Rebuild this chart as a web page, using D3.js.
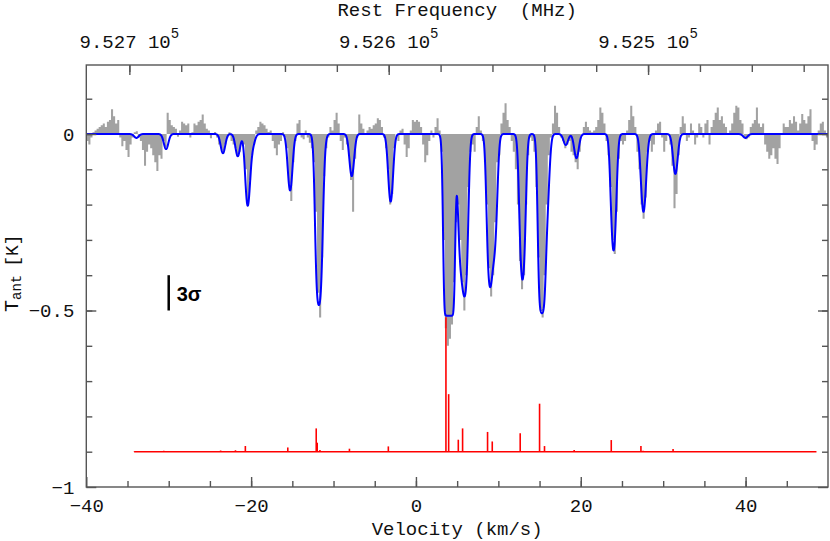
<!DOCTYPE html>
<html>
<head>
<meta charset="utf-8">
<script src="https://cdn.jsdelivr.net/npm/d3@7"></script>
<style>
  body { margin: 0; background: #fff; }
  svg text { font-family: "Liberation Mono", "DejaVu Sans Mono", monospace; fill: #111; }
  .axis path, .axis line { stroke: #555; stroke-width: 1.4px; }
</style>
</head>
<body>
<svg id="spectrum" width="830" height="541"></svg>
<script>
// observed spectrum, channels of grayStep km/s starting at grayStart (T_ant in K)
var grayStart = -40;
var grayStep = 0.25;
var grayValues = [
  -0.02, -0.03, -0.01, 0.005, 0.01, 0.015, 0.02, 0.025, 0.03, 0.02, 0.035, 0.04, 0.07, 0.05, 0.03, 0.04, -0.01, -0.035, -0.02, -0.045,
  -0.065, -0.03, -0.01, 0.005, 0.008, -0.01, -0.02, -0.045, -0.09, -0.05, -0.03, -0.04, -0.06, -0.08, -0.105, -0.06, -0.07, -0.02, -0.04, 0.06,
  0.04, 0.025, 0.02, 0.015, -0.008, 0.01, 0.035, 0.03, 0.025, 0.03, -0.01, 0.005, 0.03, 0.025, 0.035, 0.04, 0.055, 0.03, 0.015, 0.01,
  -0.012, 0.0, 0.006, -0.01, -0.03, -0.04, -0.055, -0.03, -0.01, 0.005, -0.02, -0.03, -0.04, -0.065, -0.05, -0.02, -0.03, -0.1, -0.205, -0.13,
  -0.06, -0.03, 0.01, 0.02, 0.035, 0.03, 0.025, 0.015, 0.006, 0.01, -0.02, -0.04, -0.06, -0.03, -0.02, 0.005, -0.01, -0.04, -0.14, -0.19,
  -0.08, -0.02, 0.03, 0.04, -0.01, -0.015, 0.01, -0.01, -0.025, -0.04, -0.08, -0.22, -0.45, -0.52, -0.35, -0.12, -0.04, -0.01, 0.02, 0.01,
  0.04, 0.06, 0.03, -0.02, -0.045, -0.01, -0.03, -0.06, -0.13, -0.22, -0.07, -0.01, 0.055, 0.03, 0.015, 0.0, 0.01, 0.02, 0.015, 0.025,
  0.03, 0.045, 0.04, 0.02, -0.01, -0.04, -0.1, -0.2, -0.17, -0.04, 0.0, -0.02, 0.01, 0.015, -0.03, -0.065, -0.04, 0.01, 0.04, 0.035,
  0.04, 0.035, 0.02, -0.03, -0.08, -0.06, -0.02, 0.01, -0.01, 0.02, 0.045, 0.01, -0.05, -0.3, -0.55, -0.6, -0.58, -0.54, -0.42, -0.25,
  -0.2, -0.3, -0.42, -0.5, -0.4, -0.15, -0.05, -0.03, -0.05, 0.02, 0.05, 0.01, -0.02, -0.08, -0.2, -0.38, -0.46, -0.4, -0.25, -0.08,
  -0.06, 0.03, 0.06, 0.087, 0.04, 0.02, -0.02, -0.05, -0.1, -0.2, -0.36, -0.44, -0.4, -0.2, -0.06, -0.01, -0.02, -0.05, -0.15, -0.35,
  -0.5, -0.52, -0.4, -0.2, -0.06, -0.01, 0.03, 0.08, 0.06, 0.02, -0.01, -0.02, -0.04, -0.03, -0.02, -0.05, -0.06, -0.08, -0.1, -0.05,
  0.0, 0.02, 0.035, 0.02, 0.01, 0.005, 0.01, 0.02, 0.04, 0.075, 0.06, 0.03, -0.02, -0.06, -0.15, -0.3, -0.34, -0.22, -0.07, -0.02,
  -0.03, -0.02, 0.01, 0.04, 0.08, 0.05, 0.02, -0.05, -0.1, -0.2, -0.24, -0.18, -0.05, -0.02, -0.05, -0.03, 0.01, 0.03, 0.035, -0.01,
  -0.05, -0.02, 0.0, -0.03, -0.09, -0.21, -0.17, -0.06, 0.02, 0.05, 0.03, -0.02, -0.01, 0.03, 0.01, -0.03, -0.01, 0.03, 0.02, -0.01,
  0.03, 0.04, -0.03, 0.02, 0.04, 0.06, 0.075, 0.04, 0.05, 0.03, 0.02, 0.0, 0.01, 0.03, 0.06, 0.08, 0.075, 0.04, 0.03, -0.01,
  -0.015, -0.01, 0.02, 0.03, 0.04, 0.075, 0.03, 0.02, 0.03, -0.03, -0.05, -0.07, -0.06, -0.04, -0.07, -0.085, -0.04, 0.0, 0.03, 0.02,
  0.02, 0.04, 0.03, 0.05, 0.035, 0.01, 0.03, 0.057, 0.04, 0.03, 0.05, 0.07, -0.02, -0.045, -0.03, 0.01, 0.03, 0.035, 0.01, -0.01
];

// hyperfine components: velocity (km/s) and stick height (K above stickBase)
var hfsVelocity = [-34.2, -30.6, -23.7, -21.9, -20.7, -20.1, -15.55, -12.1, -11.98, -11.65, -8.07, -3.35,
  3.64, 3.97, 5.14, 5.66, 8.69, 9.26, 12.65, 15.0, 15.6, 17.9, 19.2, 23.7, 27.3, 27.56, 31.2, 39.7];
var hfsIntensity = [0.0007, 0.0028, 0.0036, 0.0042, 0.016, 0.002, 0.012, 0.066, 0.0255, 0.005, 0.0085, 0.015,
  0.381, 0.163, 0.034, 0.066, 0.056, 0.029, 0.052, 0.136, 0.016, 0.002, 0.0046, 0.033, 0.016, 0.003, 0.008, 0.0007];
var stickBase = -0.9;
var stickRange = [-34.2, 48.6];

// hfs fit: depth of saturated lines, opacity per K of stick, line width, velocity offset
var fitTmax = 0.515;
var fitTauPerK = 31;
var fitSigma = 0.27;
var fitShift = 0.28;

// noise bar (3 sigma) in K
var sigmaBar = { v: -30, top: -0.4, bottom: -0.5 };

var velDomain = [-40, 50];
var tempDomain = [-1, 0.1955];
var xMajorTicks = [-40, -20, 0, 20, 40];
var yMajorTicks = [0, -0.5, -1];
var freqMajorTicks = [952700, 952600, 952500];
var restFreq = 952589.5; // MHz at v = 0
var lightSpeed = 299792.458;

var svg = d3.select("#spectrum"),
  frameLeft = 86.3,
  frameRight = 828,
  frameTop = 65,
  frameBottom = 487;

var x = d3.scaleLinear().domain(velDomain).range([frameLeft, frameRight]);
var y = d3.scaleLinear().domain(tempDomain).range([frameBottom, frameTop]);

function velToFreq(v) {
  return restFreq * (1 - v / lightSpeed);
}
var xf = d3.scaleLinear()
  .domain([velToFreq(velDomain[0]), velToFreq(velDomain[1])])
  .range([frameLeft, frameRight]);

svg.append("clipPath")
  .attr("id", "plotClip")
  .append("rect")
  .attr("x", frameLeft)
  .attr("y", frameTop)
  .attr("width", frameRight - frameLeft)
  .attr("height", frameBottom - frameTop);

var plot = svg.append("g").attr("clip-path", "url(#plotClip)");

// gray histogram
var grayPoints = grayValues.map(function(t, i) {
  return [grayStart + i * grayStep, t];
});
grayPoints.push([grayStart + grayValues.length * grayStep, grayValues[grayValues.length - 1]]);

plot.append("path")
  .datum(grayPoints)
  .attr("fill", "#a2a2a2")
  .attr("d", d3.area()
    .curve(d3.curveStepAfter)
    .x(function(d) { return x(d[0]); })
    .y0(y(0))
    .y1(function(d) { return y(d[1]); }));

// red stick spectrum
plot.append("line")
  .attr("x1", x(stickRange[0]))
  .attr("x2", x(stickRange[1]))
  .attr("y1", y(stickBase))
  .attr("y2", y(stickBase))
  .attr("stroke", "#ff0000")
  .attr("stroke-width", 1.5);

plot.selectAll(".stick")
  .data(hfsVelocity)
  .enter()
  .append("line")
  .attr("class", "stick")
  .attr("x1", function(d) { return x(d); })
  .attr("x2", function(d) { return x(d); })
  .attr("y1", y(stickBase))
  .attr("y2", function(d, i) { return y(stickBase + hfsIntensity[i]); })
  .attr("stroke", "#ff0000")
  .attr("stroke-width", 1.6);

// blue hfs model built from the components
function hfsModel(v) {
  var tau = 0;
  hfsVelocity.forEach(function(v0, i) {
    var d = v - v0 - fitShift;
    tau += fitTauPerK * hfsIntensity[i] * Math.exp(-d * d / (2 * fitSigma * fitSigma));
  });
  return -fitTmax * (1 - Math.exp(-tau));
}
var modelPoints = d3.range(velDomain[0], velDomain[1] + 0.001, 0.02).map(function(v) {
  return [v, hfsModel(v)];
});

plot.append("path")
  .datum(modelPoints)
  .attr("fill", "none")
  .attr("stroke", "#0000ff")
  .attr("stroke-width", 2)
  .attr("stroke-linejoin", "round")
  .attr("d", d3.line()
    .x(function(d) { return x(d[0]); })
    .y(function(d) { return y(d[1]); }));

// frame
svg.append("rect")
  .attr("x", frameLeft)
  .attr("y", frameTop)
  .attr("width", frameRight - frameLeft)
  .attr("height", frameBottom - frameTop)
  .attr("fill", "none")
  .attr("stroke", "#555")
  .attr("stroke-width", 1.4);

// axes, ticks pointing inward
var fmt = function(d) { return d === 0 ? "0" : String(d).replace("-", "\u2212"); };

svg.append("g")
  .attr("class", "axis")
  .attr("transform", "translate(0," + frameBottom + ")")
  .call(d3.axisBottom(x).tickValues(d3.range(-35, 50, 5)).tickSize(-6).tickFormat(""))
  .call(function(g) { g.select(".domain").remove(); });

svg.append("g")
  .attr("class", "axis")
  .attr("transform", "translate(0," + frameBottom + ")")
  .call(d3.axisBottom(x).tickValues(xMajorTicks).tickSize(-10).tickPadding(12).tickFormat(fmt))
  .call(function(g) {
    g.select(".domain").remove();
    g.selectAll("text").style("font-size", "19px");
  });

svg.append("g")
  .attr("class", "axis")
  .attr("transform", "translate(" + frameLeft + ",0)")
  .call(d3.axisLeft(y).tickValues(d3.range(-0.9, 0.15, 0.1)).tickSize(-6).tickFormat(""))
  .call(function(g) { g.select(".domain").remove(); });

svg.append("g")
  .attr("class", "axis")
  .attr("transform", "translate(" + frameLeft + ",0)")
  .call(d3.axisLeft(y).tickValues(yMajorTicks).tickSize(-10).tickPadding(12).tickFormat(fmt))
  .call(function(g) {
    g.select(".domain").remove();
    g.selectAll("text").style("font-size", "19px");
  });

svg.append("g")
  .attr("class", "axis")
  .attr("transform", "translate(" + frameRight + ",0)")
  .call(d3.axisRight(y).tickValues(d3.range(-0.9, 0.15, 0.1)).tickSize(-6).tickFormat(""))
  .call(function(g) { g.select(".domain").remove(); });

svg.append("g")
  .attr("class", "axis")
  .attr("transform", "translate(" + frameRight + ",0)")
  .call(d3.axisRight(y).tickValues(yMajorTicks).tickSize(-10).tickFormat(""))
  .call(function(g) { g.select(".domain").remove(); });

var freqMinor = d3.range(952420, 952720, 20);
svg.append("g")
  .attr("class", "axis")
  .attr("transform", "translate(0," + frameTop + ")")
  .call(d3.axisTop(xf).tickValues(freqMinor).tickSize(-7).tickFormat(""))
  .call(function(g) { g.select(".domain").remove(); });

svg.append("g")
  .attr("class", "axis")
  .attr("transform", "translate(0," + frameTop + ")")
  .call(d3.axisTop(xf).tickValues(freqMajorTicks).tickSize(-10).tickFormat(""))
  .call(function(g) { g.select(".domain").remove(); });

// top labels "9.527 10^5"
var freqLabels = svg.selectAll(".freqLabel")
  .data(freqMajorTicks)
  .enter()
  .append("text")
  .attr("class", "freqLabel")
  .attr("x", function(d) { return xf(d); })
  .attr("y", 48)
  .attr("text-anchor", "middle")
  .style("font-size", "19px");
freqLabels.append("tspan").text(function(d) { return (d / 1e5).toFixed(3) + " 10"; });
freqLabels.append("tspan")
  .attr("dy", -10)
  .style("font-size", "14px")
  .text("5");

svg.append("text")
  .attr("x", (frameLeft + frameRight) / 2)
  .attr("y", 16)
  .attr("text-anchor", "middle")
  .style("font-size", "19px")
  .attr("xml:space", "preserve")
  .text("Rest Frequency  (MHz)");

svg.append("text")
  .attr("x", (frameLeft + frameRight) / 2)
  .attr("y", 535)
  .attr("text-anchor", "middle")
  .style("font-size", "19px")
  .text("Velocity (km/s)");

var ylab = svg.append("text")
  .attr("transform", "translate(18,312) rotate(-90)")
  .style("font-size", "20px");
ylab.append("tspan").text("T");
ylab.append("tspan").attr("dy", 3).style("font-size", "14px").text("ant");
ylab.append("tspan").attr("dy", -3).attr("dx", 8).style("font-size", "18px").text("[K]");

// 3 sigma bar
svg.append("line")
  .attr("x1", x(sigmaBar.v))
  .attr("x2", x(sigmaBar.v))
  .attr("y1", y(sigmaBar.top))
  .attr("y2", y(sigmaBar.bottom))
  .attr("stroke", "#000")
  .attr("stroke-width", 2.5);

svg.append("text")
  .attr("x", x(sigmaBar.v) + 8)
  .attr("y", y(sigmaBar.bottom) - 10)
  .style("font-family", "'Liberation Sans', Arial, sans-serif")
  .style("font-weight", "bold")
  .style("font-size", "20px")
  .style("fill", "#000")
  .text("3\u03c3");
</script>
</body>
</html>
